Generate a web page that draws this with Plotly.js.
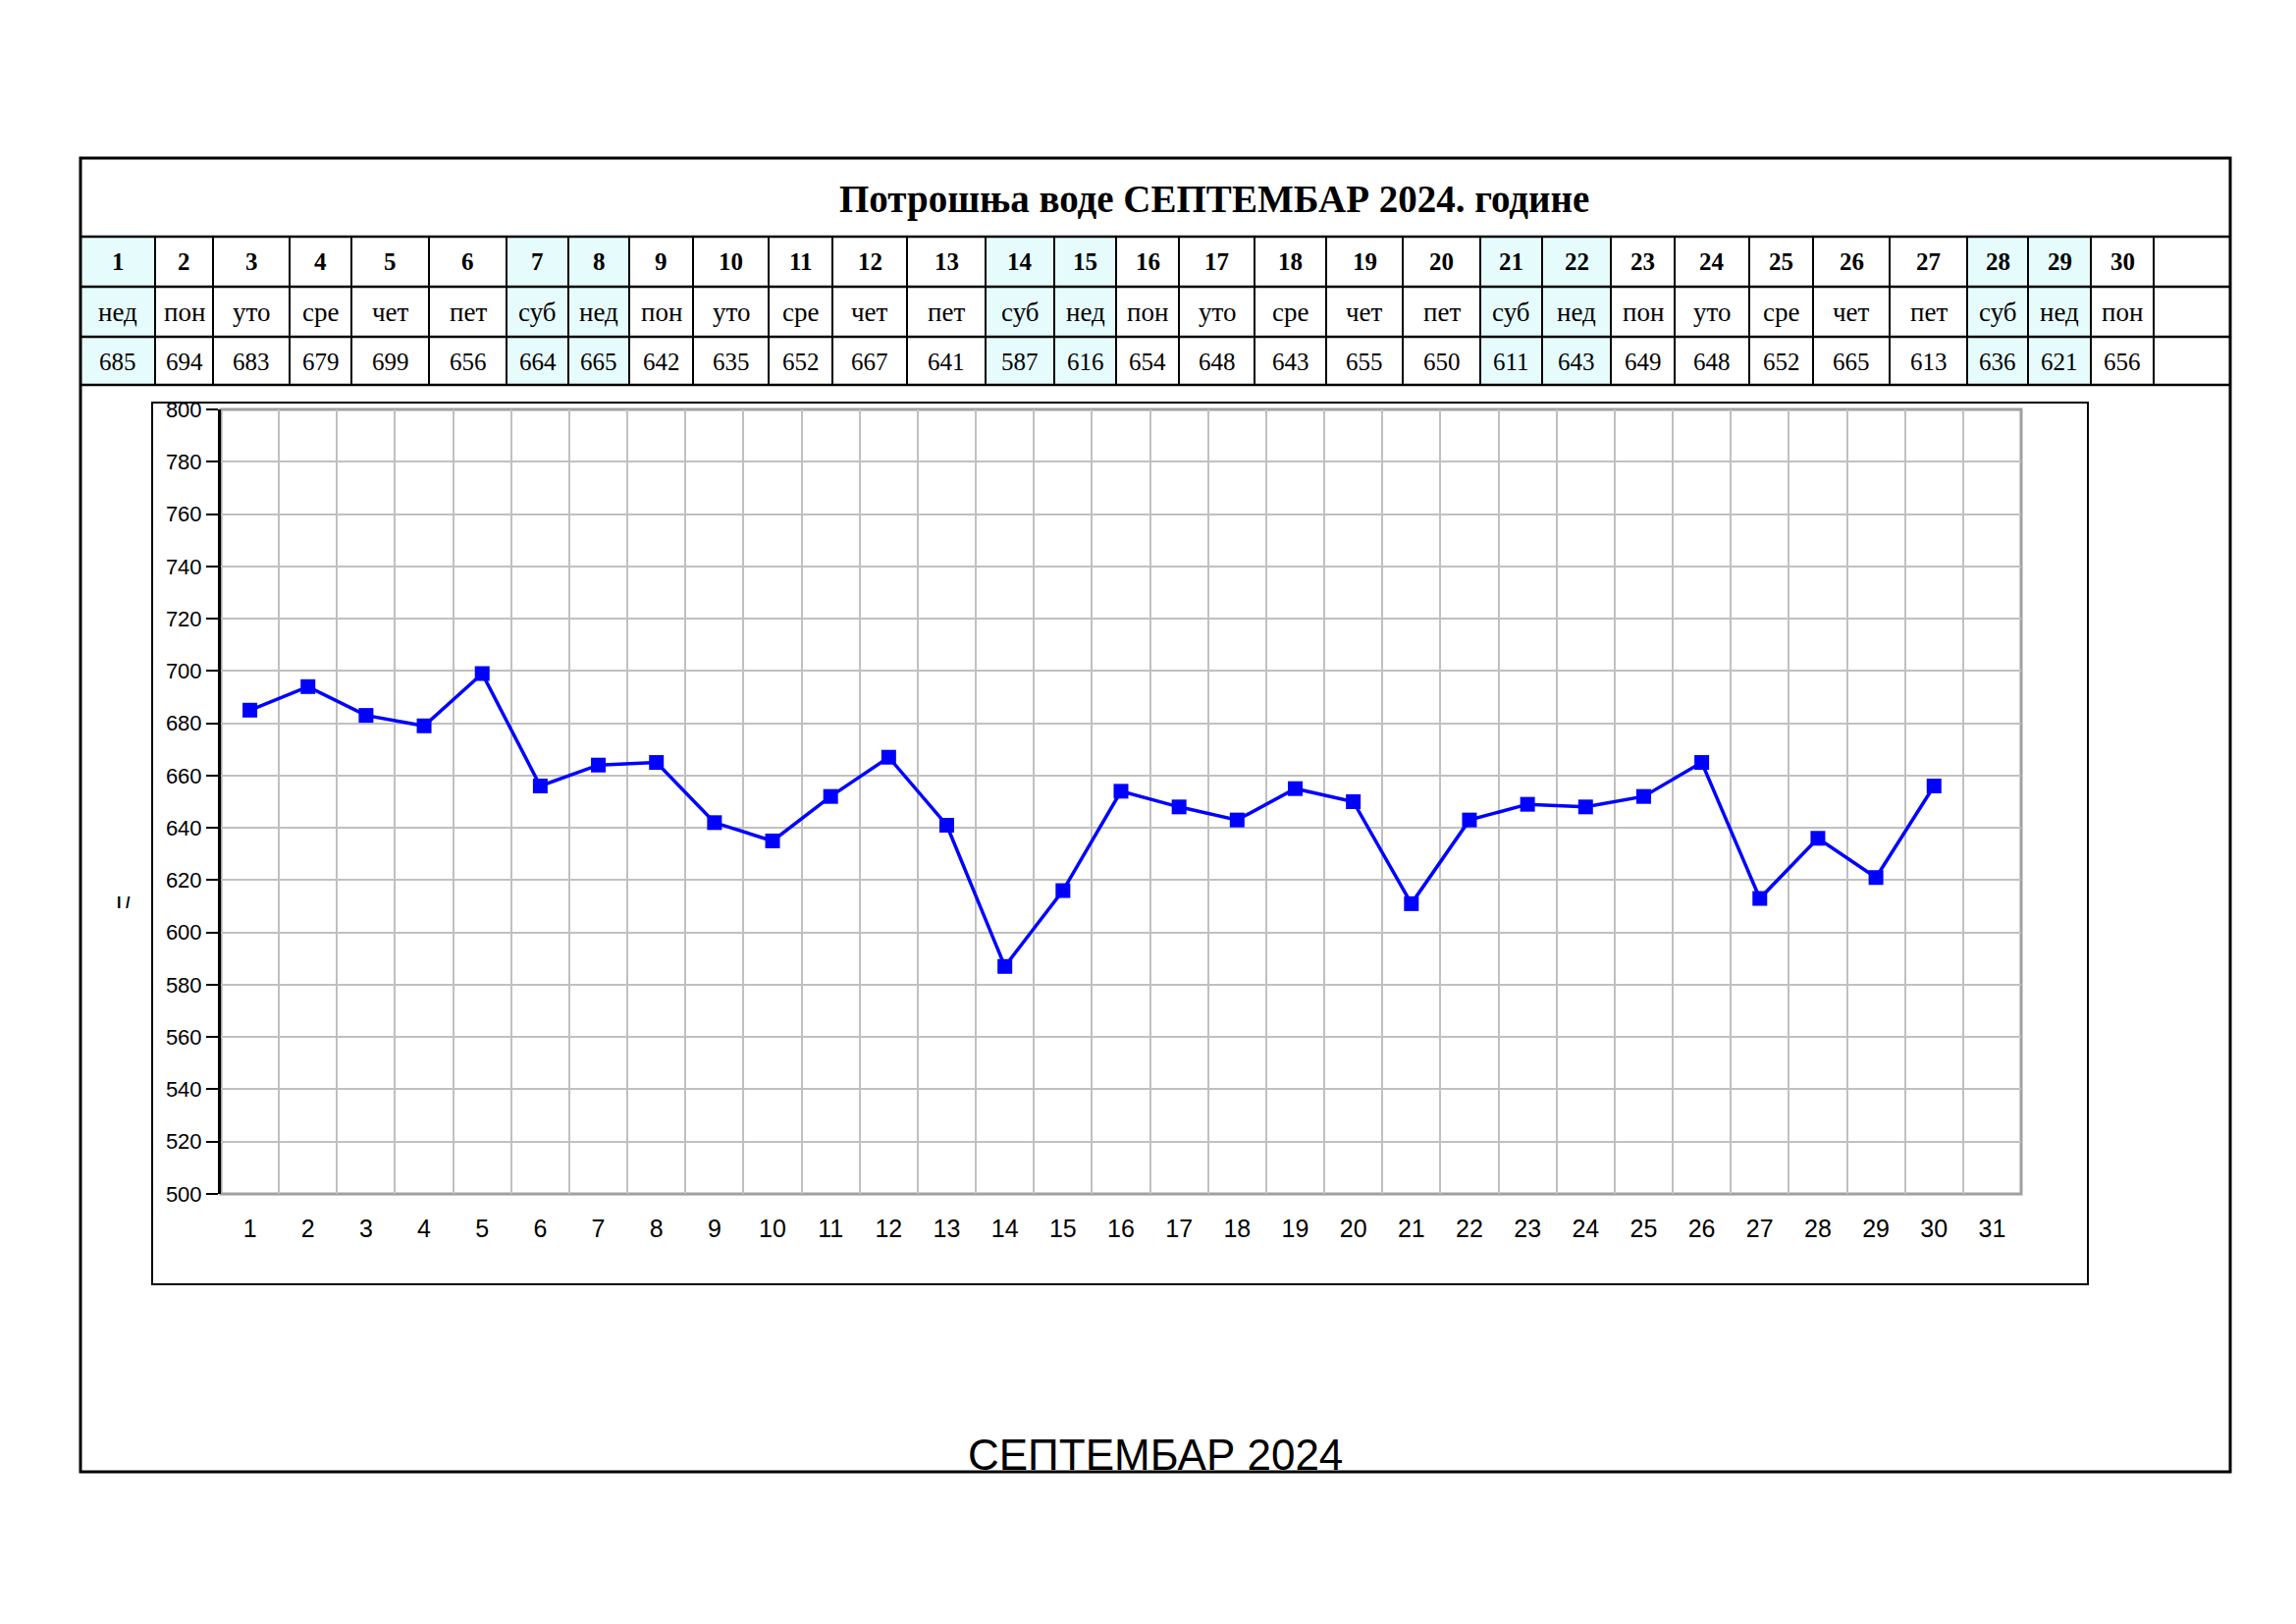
<!DOCTYPE html>
<html>
<head>
<meta charset="utf-8">
<script src="https://cdn.plot.ly/plotly-3.0.1.min.js"></script>
<style>
html,body{margin:0;padding:0;background:#fff;}
#chart{width:2339px;height:1654px;}
</style>
</head>
<body>
<div id="chart"></div>
<script>
// ---------- DATA ----------
const chartTitle = 'Потрошња воде СЕПТЕМБАР 2024. године';
const bottomTitle = 'СЕПТЕМБАР 2024';
const yAxisText = 'I /';
const days = [1,2,3,4,5,6,7,8,9,10,11,12,13,14,15,16,17,18,19,20,21,22,23,24,25,26,27,28,29,30];
const dayNames = ['нед','пон','уто','сре','чет','пет','суб','нед','пон','уто','сре','чет','пет','суб','нед','пон','уто','сре','чет','пет','суб','нед','пон','уто','сре','чет','пет','суб','нед','пон'];
const consumption = [685,694,683,679,699,656,664,665,642,635,652,667,641,587,616,654,648,643,655,650,611,643,649,648,652,665,613,636,621,656];
const xTickLabels = ['1','2','3','4','5','6','7','8','9','10','11','12','13','14','15','16','17','18','19','20','21','22','23','24','25','26','27','28','29','30','31'];
const xTickVals = [1,2,3,4,5,6,7,8,9,10,11,12,13,14,15,16,17,18,19,20,21,22,23,24,25,26,27,28,29,30,31];
const weekendNames = ['суб','нед'];

// ---------- LAYOUT GEOMETRY (pixels) ----------
const W = 2339, H = 1654;
const M = {l:225, r:280, t:417, b:438};
const PW = W - M.l - M.r, PH = H - M.t - M.b;
const px = x => (x - M.l) / PW;
const py = y => (H - M.b - y) / PH;
const colEdges = [82,158,217,295,358,437,516,579,641,706,783,848,924,1004,1074,1137,1201,1278,1351,1429,1508,1571,1641,1706,1782,1847,1925,2004,2066,2130,2194,2272];
const frame = {x0:82, x1:2272, y0:161, y1:1499};
const rowLines = [241,292,343,392];
const chartBox = {x0:155, x1:2127, y0:410, y1:1308};

const serif = 'Liberation Serif, Times New Roman, serif';
const sans = 'Liberation Sans, Arial, sans-serif';

const shapes = [];
const annotations = [];

// weekend fills
days.forEach((d,i) => {
  if (weekendNames.includes(dayNames[i])) {
    shapes.push({type:'rect', xref:'paper', yref:'paper', layer:'below',
      x0:px(colEdges[i]), x1:px(colEdges[i+1]), y0:py(rowLines[0]), y1:py(rowLines[3]),
      fillcolor:'#E6FCFC', line:{width:0}});
  }
});
// horizontal table lines
rowLines.forEach(y => shapes.push({type:'line', xref:'paper', yref:'paper',
  x0:px(frame.x0), x1:px(frame.x1), y0:py(y), y1:py(y), line:{color:'#000', width:2.5}}));
// vertical table lines
colEdges.slice(1, -1).forEach(x => shapes.push({type:'line', xref:'paper', yref:'paper',
  x0:px(x), x1:px(x), y0:py(rowLines[0]), y1:py(rowLines[3]), line:{color:'#000', width:2}}));
// outer frame
shapes.push({type:'rect', xref:'paper', yref:'paper',
  x0:px(frame.x0), x1:px(frame.x1), y0:py(frame.y0), y1:py(frame.y1), line:{color:'#000', width:3}});
// inner chart box
shapes.push({type:'rect', xref:'paper', yref:'paper', layer:'below',
  x0:px(chartBox.x0), x1:px(chartBox.x1), y0:py(chartBox.y0), y1:py(chartBox.y1), line:{color:'#000', width:2}});
// plot-area border (gray)
shapes.push({type:'rect', xref:'x domain', yref:'y domain', layer:'below',
  x0:0, x1:1, y0:0, y1:1, line:{color:'#A0A0A0', width:3}});

// table texts
const rowCenters = [(rowLines[0]+rowLines[1])/2, (rowLines[1]+rowLines[2])/2, (rowLines[2]+rowLines[3])/2 + 1];
days.forEach((d,i) => {
  const cx = px((colEdges[i]+colEdges[i+1])/2);
  annotations.push({xref:'paper', yref:'paper', x:cx, y:py(rowCenters[0]), text:'<b>'+d+'</b>',
    showarrow:false, xanchor:'center', yanchor:'middle', font:{family:serif, size:25, color:'#000'}});
  annotations.push({xref:'paper', yref:'paper', x:cx, y:py(rowCenters[1]), text:dayNames[i],
    showarrow:false, xanchor:'center', yanchor:'middle', font:{family:serif, size:27, color:'#000'}});
  annotations.push({xref:'paper', yref:'paper', x:cx, y:py(rowCenters[2]), text:String(consumption[i]),
    showarrow:false, xanchor:'center', yanchor:'middle', font:{family:serif, size:25, color:'#000'}});
});
// titles
annotations.push({xref:'paper', yref:'paper', x:px(1237), y:py(203), text:'<b>'+chartTitle+'</b>',
  showarrow:false, xanchor:'center', yanchor:'middle', font:{family:serif, size:39, color:'#000'}});
annotations.push({xref:'paper', yref:'paper', x:px(1177), y:py(1481), text:bottomTitle,
  showarrow:false, xanchor:'center', yanchor:'middle', font:{family:sans, size:44, color:'#000'}});
annotations.push({xref:'paper', yref:'paper', x:px(126), y:py(919), text:'<b>'+yAxisText+'</b>',
  showarrow:false, xanchor:'center', yanchor:'middle', font:{family:sans, size:16, color:'#000'}});

const traces = [
  {x:[], y:[], xaxis:'x2', yaxis:'y', type:'scatter', mode:'lines', hoverinfo:'skip', showlegend:false},
  {x:days, y:consumption, xaxis:'x', yaxis:'y', type:'scatter', mode:'lines+markers',
   line:{color:'#0000FF', width:3.5}, marker:{symbol:'square', size:15, color:'#0000FF'},
   showlegend:false, cliponaxis:false}
];

const layout = {
  width:W, height:H,
  margin:M,
  paper_bgcolor:'#fff', plot_bgcolor:'#fff',
  showlegend:false, hovermode:false,
  xaxis:{range:[0.5,31.5], tickmode:'array', tickvals:xTickVals, ticktext:xTickLabels,
    showgrid:false, zeroline:false, showline:false, ticks:'', ticklabelstandoff:18,
    tickfont:{family:sans, size:25, color:'#000'}, fixedrange:true},
  xaxis2:{overlaying:'x', anchor:'y', range:[0.5,31.5], tickmode:'linear', tick0:0.5, dtick:1,
    showgrid:true, gridcolor:'#C0C0C0', gridwidth:2, showticklabels:false, ticks:'',
    zeroline:false, showline:false, fixedrange:true},
  yaxis:{range:[500,800], tickmode:'linear', tick0:500, dtick:20,
    showgrid:true, gridcolor:'#C0C0C0', gridwidth:2, zeroline:false,
    showline:true, linecolor:'#000', linewidth:3,
    ticks:'outside', ticklen:12, tickwidth:2, tickcolor:'#000',
    tickfont:{family:sans, size:22, color:'#000'}, fixedrange:true},
  shapes:shapes,
  annotations:annotations
};

Plotly.newPlot('chart', traces, layout, {displayModeBar:false, staticPlot:true});
</script>
</body>
</html>
